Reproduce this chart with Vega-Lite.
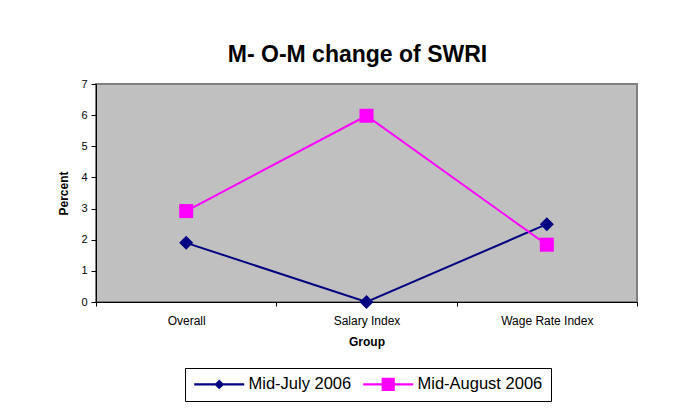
{
  "$schema": "https://vega.github.io/schema/vega-lite/v6.json",
  "width": 541,
  "height": 218,
  "autosize": {"type": "none"},
  "padding": {"left": 96, "top": 84, "right": 54, "bottom": 112},
  "background": "white",
  "title": {
    "text": "M- O-M change of SWRI",
    "font": "Liberation Sans",
    "fontSize": 23,
    "fontWeight": "bold",
    "color": "black",
    "anchor": "middle",
    "frame": "group",
    "baseline": "alphabetic",
    "offset": 21,
    "dy": 28,
    "dx": -9
  },
  "data": {
    "values": [
      {"Group": "Overall", "Series": "Mid-July 2006", "Percent": 1.9},
      {"Group": "Salary Index", "Series": "Mid-July 2006", "Percent": 0.0},
      {"Group": "Wage Rate Index", "Series": "Mid-July 2006", "Percent": 2.5},
      {"Group": "Overall", "Series": "Mid-August 2006", "Percent": 2.92},
      {"Group": "Salary Index", "Series": "Mid-August 2006", "Percent": 5.98},
      {"Group": "Wage Rate Index", "Series": "Mid-August 2006", "Percent": 1.84}
    ]
  },
  "encoding": {
    "x": {
      "field": "Group",
      "type": "nominal",
      "sort": ["Overall", "Salary Index", "Wage Rate Index"],
      "scale": {"type": "band", "paddingInner": 0, "paddingOuter": 0},
      "axis": {
        "title": "Group",
        "labelAngle": 0,
        "tickBand": "extent",
        "tickSize": 4,
        "labelPadding": 9,
        "titlePadding": 10,
        "labelFontSize": 12,
        "titleFontSize": 12
      }
    },
    "y": {
      "field": "Percent",
      "type": "quantitative",
      "scale": {"domain": [0, 7], "nice": false},
      "axis": {
        "title": "Percent",
        "values": [0, 1, 2, 3, 4, 5, 6, 7],
        "grid": false,
        "tickSize": 5,
        "labelPadding": 4,
        "titlePadding": 10,
        "labelFontSize": 11,
        "titleFontSize": 12
      }
    },
    "color": {
      "field": "Series",
      "type": "nominal",
      "sort": ["Mid-July 2006", "Mid-August 2006"],
      "scale": {"domain": ["Mid-July 2006", "Mid-August 2006"], "range": ["#000080", "#ff00ff"]},
      "legend": {
        "title": null,
        "orient": "none",
        "legendX": 89,
        "legendY": 284,
        "direction": "horizontal",
        "symbolSize": 196,
        "symbolOffset": 18,
        "labelFontSize": 16.5,
        "labelOffset": 21,
        "columnPadding": 10,
        "padding": 8,
        "strokeColor": "black",
        "encode": {
          "symbols": {
            "update": {
              "shape": {"signal": "datum.value === 'Mid-July 2006' ? 'M-3.571,-0.143H3.571V0.143H-3.571Z M0,-0.714L0.714,0L0,0.714L-0.714,0Z' : 'M-3.571,-0.143H3.571V0.143H-3.571Z M-0.94,-0.94H0.94V0.94H-0.94Z'"},
              "fill": {"scale": "color", "field": "value"},
              "fillOpacity": {"value": 1},
              "strokeWidth": {"value": 0}
            }
          }
        }
      }
    }
  },
  "layer": [
    {"mark": {"type": "line", "strokeWidth": 2}},
    {
      "mark": {"type": "point", "filled": true, "size": 196, "opacity": 1},
      "encoding": {
        "shape": {
          "condition": {"test": "datum.Series === 'Mid-July 2006'", "value": "diamond"},
          "value": "square"
        }
      }
    }
  ],
  "config": {
    "font": "Liberation Sans",
    "view": {"fill": "#c0c0c0", "stroke": "#808080", "strokeWidth": 2},
    "axis": {
      "domainColor": "black",
      "tickColor": "black",
      "labelColor": "black",
      "titleColor": "black",
      "labelFont": "Liberation Sans",
      "titleFont": "Liberation Sans",
      "titleFontWeight": "bold"
    },
    "legend": {"labelColor": "black", "labelFont": "Liberation Sans"}
  }
}
